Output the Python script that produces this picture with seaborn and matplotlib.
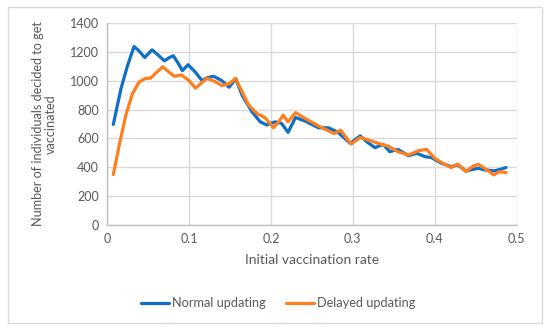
import matplotlib
matplotlib.use("Agg")
import matplotlib.pyplot as plt
import seaborn as sns
import pandas as pd
from matplotlib.patches import Rectangle

# ---- data ----
normal_x = [0.0077, 0.017, 0.025, 0.033, 0.039, 0.046, 0.055, 0.062, 0.070, 0.076, 0.081,
            0.087, 0.092, 0.099, 0.108, 0.116, 0.122, 0.130, 0.140, 0.149, 0.157, 0.165,
            0.177, 0.187, 0.195, 0.205, 0.213, 0.221, 0.230, 0.242, 0.258, 0.270, 0.281,
            0.297, 0.309, 0.317, 0.327, 0.337, 0.345, 0.355, 0.368, 0.378, 0.388, 0.396,
            0.408, 0.420, 0.428, 0.438, 0.453, 0.461, 0.473, 0.487]
normal_y = [697, 944, 1104, 1237, 1207, 1161, 1214, 1180, 1138, 1160, 1173,
            1120, 1070, 1111, 1058, 1001, 1020, 1031, 1001, 955, 1013, 898,
            784, 715, 693, 715, 704, 642, 745, 720, 674, 674, 646,
            566, 618, 577, 536, 559, 508, 524, 480, 497, 474, 467,
            428, 405, 416, 375, 393, 382, 375, 398]

delayed_x = [0.0077, 0.015, 0.023, 0.031, 0.039, 0.047, 0.053, 0.060, 0.068, 0.076, 0.082,
             0.091, 0.100, 0.108, 0.114, 0.122, 0.132, 0.140, 0.149, 0.157, 0.165, 0.173,
             0.183, 0.193, 0.203, 0.209, 0.215, 0.221, 0.230, 0.242, 0.258, 0.277, 0.285,
             0.298, 0.309, 0.319, 0.335, 0.343, 0.355, 0.368, 0.380, 0.390, 0.400, 0.412,
             0.420, 0.428, 0.438, 0.447, 0.453, 0.461, 0.472, 0.479, 0.487]
delayed_y = [350, 555, 761, 910, 990, 1017, 1017, 1055, 1097, 1058, 1031,
             1040, 1001, 949, 978, 1017, 994, 967, 978, 1017, 921, 830,
             773, 743, 674, 711, 761, 715, 779, 738, 687, 634, 657,
             561, 607, 589, 559, 547, 508, 485, 515, 524, 462, 421,
             398, 423, 370, 409, 421, 393, 347, 370, 363]

series_names = ["Normal updating", "Delayed updating"]
x_ticks = [0, 0.1, 0.2, 0.3, 0.4, 0.5]
x_tick_labels = ["0", "0.1", "0.2", "0.3", "0.4", "0.5"]
y_ticks = [0, 200, 400, 600, 800, 1000, 1200, 1400]
x_label = "Initial vaccination rate"
y_label = "Number of individuals decided to get\nvaccinated"

df = pd.concat([
    pd.DataFrame({"x": normal_x, "y": normal_y, "series": series_names[0]}),
    pd.DataFrame({"x": delayed_x, "y": delayed_y, "series": series_names[1]}),
], ignore_index=True)

sns.set_theme(style="white")
plt.rcParams["font.family"] = ["Lato", "DejaVu Sans"]

txt = "#595959"
grid = "#d9d9d9"
colors = {series_names[0]: "#0F6FC6", series_names[1]: "#FF7F1E"}

fig = plt.figure(figsize=(5.5, 3.31), dpi=100)
ax = fig.add_axes([107/550, 1-225/331, (516.7-107)/550, (225-23)/331])

sns.lineplot(data=df, x="x", y="y", hue="series", palette=colors, ax=ax,
             linewidth=2.3, sort=False, estimator=None, legend=True)
for ln in ax.lines:
    ln.set_solid_joinstyle("round")

ax.set_xlim(0, 0.5)
ax.set_ylim(0, 1400)
ax.set_xticks(x_ticks)
ax.set_xticklabels(x_tick_labels)
ax.set_yticks(y_ticks)
ax.grid(True, color=grid, linewidth=1.0)
ax.set_axisbelow(True)
for s in ["top", "right"]:
    ax.spines[s].set_visible(False)
for s in ["left", "bottom"]:
    ax.spines[s].set_color("#bfbfbf")
    ax.spines[s].set_linewidth(1.0)
ax.tick_params(axis="both", length=0, labelsize=9, colors=txt, pad=6)
ax.set_xlabel(x_label, fontsize=10, color=txt, labelpad=6)
ax.set_ylabel(y_label, fontsize=9.1, color=txt, labelpad=9, linespacing=1.1)

h, l = ax.get_legend_handles_labels()
ax.get_legend().remove()
fig.legend(h, l, loc="center", bbox_to_anchor=(278/550, 1-303/331), ncol=2,
           frameon=False, fontsize=9.2, labelcolor=txt, handlelength=2.2,
           handletextpad=0.2, columnspacing=1.6)

fig.patches.append(Rectangle((8/550, 1-323/331), 534/550, 316/331, transform=fig.transFigure,
                             fill=False, edgecolor=grid, linewidth=1.0))

fig.savefig("out.png", dpi=100)
